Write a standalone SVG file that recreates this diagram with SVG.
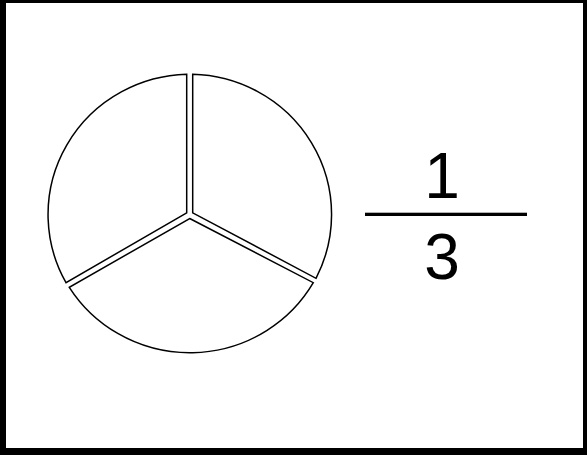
<svg xmlns="http://www.w3.org/2000/svg" width="587" height="455" viewBox="0 0 587 455">
<style>
.sector{fill:#fff;stroke:#000;stroke-width:1.5;stroke-linejoin:miter}
.num{font-family:"Liberation Sans",Arial,sans-serif;font-size:64px;fill:#000;text-anchor:middle}
</style>
<rect width="587" height="455" fill="#fff"/>
<path id="frame" d="M0 0H587V455H0Z M6 3V448H583V3Z" fill="#000" fill-rule="evenodd"/>
<g id="pie">
<g id="sector-right"><path class="sector" d="M192.7 212.8 L192.7 74.3 A142.6 140.3 0 0 1 316 278.3 Z"/></g>
<g id="sector-left"><path class="sector" d="M186.7 212.8 L66 282.7 A142.6 140.3 0 0 1 186.7 74.3 Z"/></g>
<g id="sector-bottom"><path class="sector" d="M189.7 218.5 L313.3 282.7 A142.6 140.3 0 0 1 69.3 287.3 Z"/></g>
</g>
<g id="fraction">
<text class="num" x="442" y="198">1</text>
<rect x="365" y="212.7" width="162" height="3.3" fill="#000"/>
<text class="num" x="442" y="279">3</text>
</g>
</svg>
